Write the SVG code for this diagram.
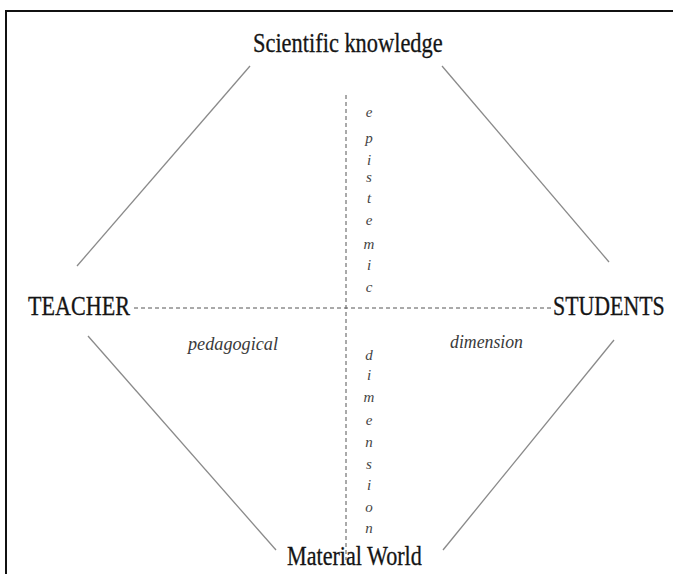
<svg xmlns="http://www.w3.org/2000/svg" width="673" height="574" viewBox="0 0 673 574">
  <style>
    .label { font-family: "Liberation Serif", "Times New Roman", serif; font-size: 27px; fill: #151515; stroke: #151515; stroke-width: 0.3; }
    .dim { font-family: "Liberation Serif", "Times New Roman", serif; font-style: italic; font-size: 18px; fill: #3a3a3a; }
    .letter { font-family: "Liberation Serif", "Times New Roman", serif; font-style: italic; font-size: 15px; fill: #444; }
    .edge { stroke: #8a8a8a; stroke-width: 1.3; fill: none; }
    .axis { stroke: #555; stroke-width: 1; stroke-dasharray: 4 3; fill: none; }
  </style>
  <rect x="0" y="0" width="673" height="574" fill="#fff"/>
  <rect x="6" y="11" width="700" height="600" fill="none" stroke="#111" stroke-width="2"/>

  <g id="connectors">
    <line class="edge" x1="250" y1="66" x2="77" y2="266"/>
    <line class="edge" x1="442" y1="66" x2="609" y2="262"/>
    <line class="edge" x1="88" y1="336" x2="276" y2="550"/>
    <line class="edge" x1="614" y1="340" x2="443" y2="550"/>
    <line class="axis" x1="134" y1="308" x2="552" y2="308"/>
    <line class="axis" x1="346" y1="95" x2="346" y2="560"/>
  </g>

  <!-- node labels: condensed serif, narrowed horizontally -->
  <g id="scientific-knowledge">
    <text class="label" transform="matrix(0.83 0 0 1 253 52)">Scientific knowledge</text>
  </g>
  <g id="teacher">
    <text class="label" transform="matrix(0.82 0 0 1 28 315)">TEACHER</text>
  </g>
  <g id="students">
    <text class="label" transform="matrix(0.81 0 0 1 553 315)">STUDENTS</text>
  </g>
  <g id="material-world">
    <text class="label" transform="matrix(0.82 0 0 1 287 565)">Material World</text>
  </g>

  <g id="dimension-labels">
    <text class="dim" x="188" y="350" textLength="90" lengthAdjust="spacingAndGlyphs">pedagogical</text>
    <text class="dim" x="450" y="348" textLength="73" lengthAdjust="spacingAndGlyphs">dimension</text>
    <g text-anchor="middle">
      <text class="letter" x="369" y="117">e</text>
      <text class="letter" x="369" y="143">p</text>
      <text class="letter" x="369" y="165">i</text>
      <text class="letter" x="369" y="182">s</text>
      <text class="letter" x="369" y="203">t</text>
      <text class="letter" x="369" y="225">e</text>
      <text class="letter" x="369" y="249">m</text>
      <text class="letter" x="369" y="270">i</text>
      <text class="letter" x="369" y="292">c</text>
      <text class="letter" x="369" y="360">d</text>
      <text class="letter" x="369" y="380">i</text>
      <text class="letter" x="369" y="402">m</text>
      <text class="letter" x="369" y="425">e</text>
      <text class="letter" x="369" y="447">n</text>
      <text class="letter" x="369" y="469">s</text>
      <text class="letter" x="369" y="490">i</text>
      <text class="letter" x="369" y="512">o</text>
      <text class="letter" x="369" y="533">n</text>
    </g>
  </g>
</svg>
